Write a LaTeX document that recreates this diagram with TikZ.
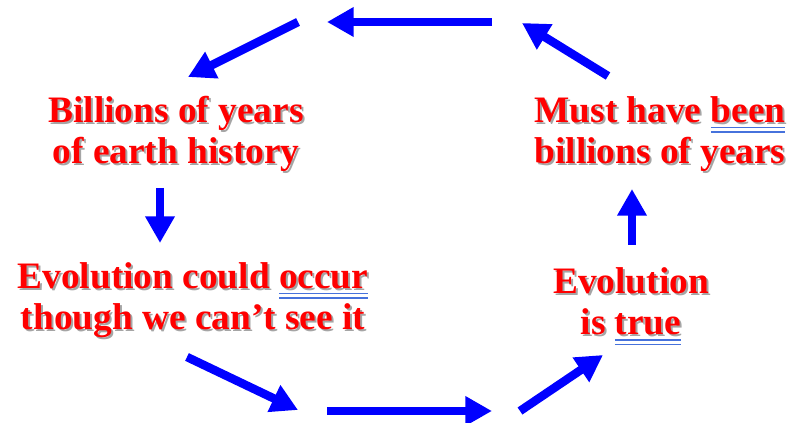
\documentclass[tikz,border=0pt]{standalone}
\usepackage{fontspec}
\setmainfont{Liberation Serif}
\usetikzlibrary{arrows.meta}
\definecolor{cycred}{RGB}{255,0,0}
\definecolor{cycblue}{RGB}{0,0,255}
\definecolor{ulblue}{RGB}{70,114,220}
\definecolor{shade}{RGB}{165,165,165}
\newsavebox{\ulbox}
% double underline (no effect on the line height)
\newcommand{\dul}[1]{\sbox{\ulbox}{#1}\rlap{\color{ulblue}\raisebox{-4.6pt}[0pt][0pt]{\rule{\wd\ulbox}{1.1pt}}}\rlap{\color{ulblue}\raisebox{-8pt}[0pt][0pt]{\rule{\wd\ulbox}{1.1pt}}}\usebox{\ulbox}}
% text with a soft grey shadow
\newcommand{\sh}[1]{{\rlap{\kern1.5pt\raisebox{-1.5pt}{\color{shade}\renewcommand{\dul}[1]{##1}#1}}}#1}
\begin{document}
\begin{tikzpicture}[x=0.75pt,y=-0.75pt,
  lbl/.style={text=cycred, font=\fontsize{28}{31}\selectfont\bfseries, align=center, inner sep=0pt},
  cyc/.style={draw=cycblue, line width=6.4pt, -{Triangle[length=20pt,width=21pt]}}]
 \useasboundingbox (0,0) rectangle (808,423);
 \node[lbl] (hist) at (176,135) {\sh{Billions of years}\\\sh{of earth history}};
 \node[lbl] (occur) at (193,301) {\sh{Evolution could \dul{occur}}\\\sh{though we can’t see it}};
 \node[lbl] (true) at (631,302) {\sh{Evolution}\\\sh{is \dul{true}}};
 \node[lbl] (been) at (660,135) {\sh{Must have \dul{been}}\\\sh{billions of years}};
 % ends of the arrows round the cycle
 \coordinate (tl0) at (298,22);  \coordinate (tl1) at (188,77);
 \coordinate (tm0) at (492,22);  \coordinate (tm1) at (327,22);
 \coordinate (tr0) at (608,76);  \coordinate (tr1) at (522,23);
 \coordinate (lv0) at (160,188); \coordinate (lv1) at (160,243);
 \coordinate (bl0) at (187,357); \coordinate (bl1) at (298,410);
 \coordinate (bm0) at (327,411); \coordinate (bm1) at (492,411);
 \coordinate (br0) at (520,411); \coordinate (br1) at (603,355);
 \coordinate (rv0) at (632,245); \coordinate (rv1) at (632,189);
 \foreach \a in {tl,tm,tr,lv,bl,bm,br,rv}
   \draw[cyc] (\a0) -- (\a1);
\end{tikzpicture}
\end{document}
